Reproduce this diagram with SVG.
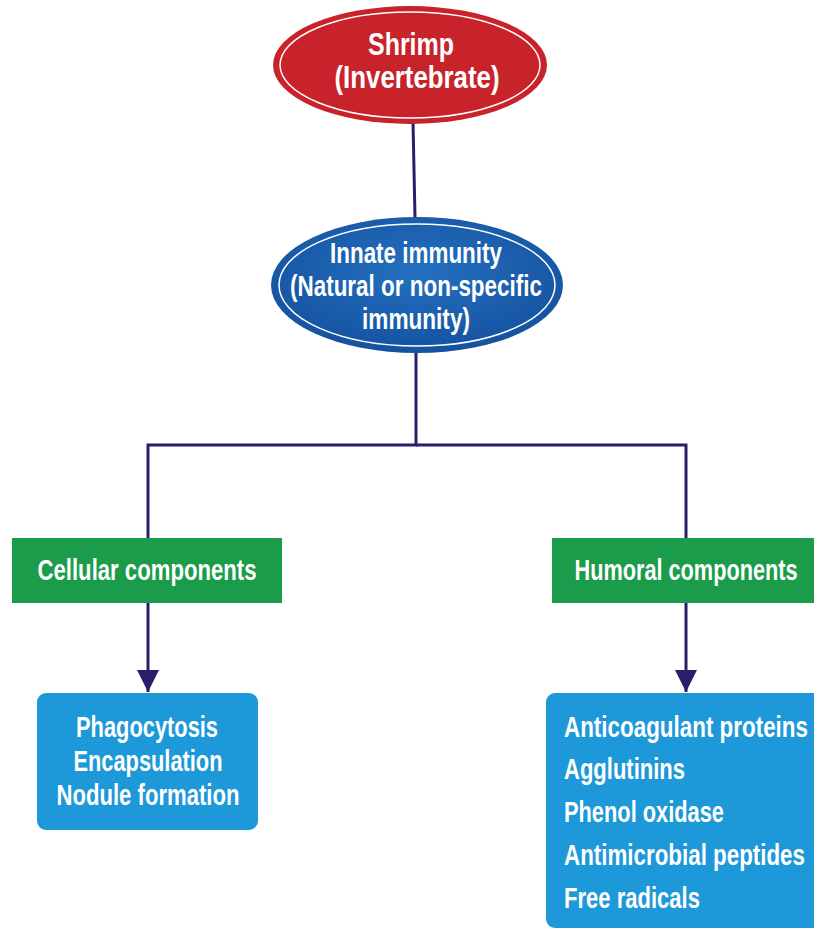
<svg xmlns="http://www.w3.org/2000/svg" width="814" height="930" viewBox="0 0 814 930">
<defs>
<style>
.t{font-family:"Liberation Sans",Arial,sans-serif;font-weight:bold;fill:#ffffff;font-size:29px}
.m{text-anchor:middle}
.c{stroke:#2b1d6b;stroke-width:3;fill:none}
.in{fill:none;stroke:#ffffff;stroke-width:1.5}
</style>
<marker id="ah" markerUnits="userSpaceOnUse" markerWidth="24" markerHeight="22" refX="22" refY="11" orient="auto">
<path d="M0,0 L22,11 L0,22 z" fill="#2b1d6b"/>
</marker>
<radialGradient id="gb" cx="50%" cy="40%" r="60%">
<stop offset="0" stop-color="#2470c0"/>
<stop offset="1" stop-color="#1552a0"/>
</radialGradient>
</defs>
<rect width="814" height="930" fill="#ffffff"/>
<g id="connectors">
<line class="c" x1="413" y1="122" x2="415" y2="218"/>
<polyline class="c" points="416,352 416,445 148,445 148,538"/>
<polyline class="c" points="416,445 686,445 686,538"/>
<line class="c" x1="148" y1="603" x2="148" y2="692" marker-end="url(#ah)"/>
<line class="c" x1="686" y1="603" x2="686" y2="692" marker-end="url(#ah)"/>
</g>
<g id="shrimp">
<ellipse cx="410" cy="65" rx="137" ry="59" fill="#c8232b"/>
<ellipse class="in" cx="410" cy="65" rx="130" ry="53"/>
<text class="t m" x="411" y="55" style="font-size:32px" textLength="86" lengthAdjust="spacingAndGlyphs">Shrimp</text>
<text class="t m" x="417" y="88" style="font-size:32px" textLength="165" lengthAdjust="spacingAndGlyphs">(Invertebrate)</text>
</g>
<g id="innate">
<ellipse cx="417" cy="285" rx="146" ry="68" fill="url(#gb)"/>
<ellipse class="in" cx="417" cy="285" rx="138" ry="61"/>
<text class="t m" x="416" y="263" textLength="172" lengthAdjust="spacingAndGlyphs">Innate immunity</text>
<text class="t m" x="416" y="296" textLength="252" lengthAdjust="spacingAndGlyphs">(Natural or non-specific</text>
<text class="t m" x="416" y="329" textLength="108" lengthAdjust="spacingAndGlyphs">immunity)</text>
</g>
<g id="cellular">
<rect x="12" y="538" width="270" height="65" fill="#1a9c4a"/>
<text class="t m" x="147" y="580" textLength="219" lengthAdjust="spacingAndGlyphs">Cellular components</text>
</g>
<g id="humoral">
<rect x="552" y="538" width="262" height="65" fill="#1a9c4a"/>
<text class="t m" x="686" y="580" textLength="223" lengthAdjust="spacingAndGlyphs">Humoral components</text>
</g>
<g id="cellular-list">
<rect x="37" y="693" width="221" height="137" rx="9" fill="#1d98d8"/>
<text class="t m" x="147" y="737" textLength="142" lengthAdjust="spacingAndGlyphs">Phagocytosis</text>
<text class="t m" x="148" y="771" textLength="149" lengthAdjust="spacingAndGlyphs">Encapsulation</text>
<text class="t m" x="148" y="805" textLength="183" lengthAdjust="spacingAndGlyphs">Nodule formation</text>
</g>
<g id="humoral-list">
<rect x="546" y="693" width="280" height="235" rx="9" fill="#1d98d8"/>
<text class="t" x="564" y="737" textLength="244" lengthAdjust="spacingAndGlyphs">Anticoagulant proteins</text>
<text class="t" x="564" y="779" textLength="121" lengthAdjust="spacingAndGlyphs">Agglutinins</text>
<text class="t" x="564" y="822" textLength="160" lengthAdjust="spacingAndGlyphs">Phenol oxidase</text>
<text class="t" x="564" y="865" textLength="241" lengthAdjust="spacingAndGlyphs">Antimicrobial peptides</text>
<text class="t" x="564" y="908" textLength="136" lengthAdjust="spacingAndGlyphs">Free radicals</text>
</g>
</svg>
